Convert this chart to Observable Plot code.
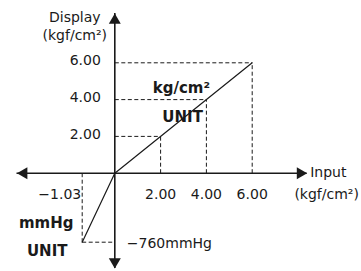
<!DOCTYPE html>
<html>
<head>
<meta charset="utf-8">
<script src="https://cdn.jsdelivr.net/npm/d3@7"></script>
<script src="https://cdn.jsdelivr.net/npm/@observablehq/plot@0.6"></script>
<style>
  html, body { margin: 0; padding: 0; background: #fff; }
  #chart svg { display: block; }
</style>
</head>
<body>
<div id="chart"></div>
<script>
// ---- data ----
const xTicks = [2, 4, 6];                 // input, kgf/cm²
const yTicks = [2, 4, 6];                 // display, kgf/cm²
const xTickLabels = ["2.00", "4.00", "6.00"];
const yTickLabels = ["2.00", "4.00", "6.00"];
const negInput = -1.03;                   // kgf/cm²
const negDisplay = -760;                  // mmHg
const negInputLabel = "\u22121.03";
const negDisplayLabel = "\u2212760mmHg";
const kgLine = [{x: 0, y: 0}, {x: 6, y: 6}];
const mmLine = [{x: 0, y: 0}, {x: negInput, y: negDisplay}];
const axisX = {min: -3.09, max: 8.4};
const axisY = {min: -1050, max: 8.68};

const font = "DejaVu Sans, Liberation Sans, sans-serif";
const ink = "#1a1a1a";

// dashed guide segments for each tick
const guides = [];
xTicks.forEach((v, i) => {
  guides.push({x1: 0, y1: yTicks[i], x2: v, y2: yTicks[i]});
  guides.push({x1: v, y1: 0, x2: v, y2: yTicks[i]});
});
guides.push({x1: negInput, y1: 0, x2: negInput, y2: negDisplay});
guides.push({x1: negInput, y1: negDisplay, x2: 0, y2: negDisplay});

const arrows = [
  {x: 0, y: axisY.max, rotate: 0, dx: 0, dy: 6.9},
  {x: axisX.max, y: 0, rotate: 90, dx: -6.9, dy: 0},
  {x: 0, y: axisY.min, rotate: 180, dx: 0, dy: -6.9},
  {x: axisX.min, y: 0, rotate: 270, dx: 6.9, dy: 0}
];

const chart = Plot.plot({
  width: 361,
  height: 271,
  margin: 0,
  x: {type: "linear", domain: [negInput, 0, 6], range: [81.7, 114.3, 251.7], axis: null},
  y: {type: "linear", domain: [negDisplay, 0, 6], range: [241.7, 172.7, 62.3], axis: null},
  style: {fontFamily: font, background: "#fff"},
  marks: [
    // dashed guides
    Plot.link(guides, {x1: "x1", y1: "y1", x2: "x2", y2: "y2", stroke: ink, strokeWidth: 1, strokeDasharray: "4,2.5"}),
    // axes
    Plot.ruleY([0], {x1: axisX.min, x2: axisX.max, stroke: ink, strokeWidth: 1.6}),
    Plot.ruleX([0], {y1: axisY.min, y2: axisY.max, stroke: ink, strokeWidth: 1.6}),
    // transfer lines
    Plot.line(kgLine, {x: "x", y: "y", stroke: ink, strokeWidth: 1.2}),
    Plot.line(mmLine, {x: "x", y: "y", stroke: ink, strokeWidth: 1.2}),
    // arrow heads
    ...arrows.map(a => Plot.dot([a], {x: "x", y: "y", symbol: "triangle", r: 4.45, fill: ink, stroke: "none", rotate: a.rotate, dx: a.dx, dy: a.dy})),
    // tick labels
    Plot.text(yTicks, {x: 0, y: d => d, text: (d, i) => yTickLabels[i], textAnchor: "end", dx: -14, dy: -2, fontSize: 14, fill: ink}),
    Plot.text(xTicks, {x: d => d, y: 0, text: (d, i) => xTickLabels[i], textAnchor: "middle", dy: 21, fontSize: 14, fill: ink}),
    Plot.text([negInput], {x: d => d, y: 0, text: [negInputLabel], textAnchor: "end", dx: -1, dy: 21, fontSize: 14, fill: ink}),
    Plot.text([negDisplay], {x: 0, y: d => d, text: [negDisplayLabel], textAnchor: "start", dx: 12, dy: 1.5, fontSize: 14, fill: ink}),
    // axis titles
    Plot.text([axisY.max], {x: 0, y: d => d, text: ["Display"], textAnchor: "middle", dx: -40, dy: 4, fontSize: 14, fill: ink}),
    Plot.text([axisY.max], {x: 0, y: d => d, text: ["(kgf/cm\u00b2)"], textAnchor: "middle", dx: -40, dy: 22, fontSize: 14, fill: ink}),
    Plot.text([axisX.max], {x: d => d, y: 0, text: ["Input"], textAnchor: "start", dx: 3, dy: -1, fontSize: 14, fill: ink}),
    Plot.text([axisX.max], {x: d => d, y: 0, text: ["(kgf/cm\u00b2)"], textAnchor: "middle", dx: 19.5, dy: 21.5, fontSize: 14, fill: ink}),
    // unit annotations
    Plot.text([{x: 4, y: 4}], {x: "x", y: "y", text: ["kg/cm\u00b2"], textAnchor: "start", dx: -53.7, dy: -11, fontSize: 15, fontWeight: "bold", fill: ink}),
    Plot.text([{x: 4, y: 4}], {x: "x", y: "y", text: ["UNIT"], textAnchor: "end", dx: -3.5, dy: 17.5, fontSize: 15, fontWeight: "bold", fill: ink}),
    Plot.text([{x: negInput, y: negDisplay}], {x: "x", y: "y", text: ["mmHg"], textAnchor: "middle", dx: -36, dy: -19, fontSize: 15, fontWeight: "bold", fill: ink}),
    Plot.text([{x: negInput, y: negDisplay}], {x: "x", y: "y", text: ["UNIT"], textAnchor: "middle", dx: -35, dy: 9, fontSize: 15, fontWeight: "bold", fill: ink})
  ]
});
document.getElementById("chart").appendChild(chart);
</script>
</body>
</html>
